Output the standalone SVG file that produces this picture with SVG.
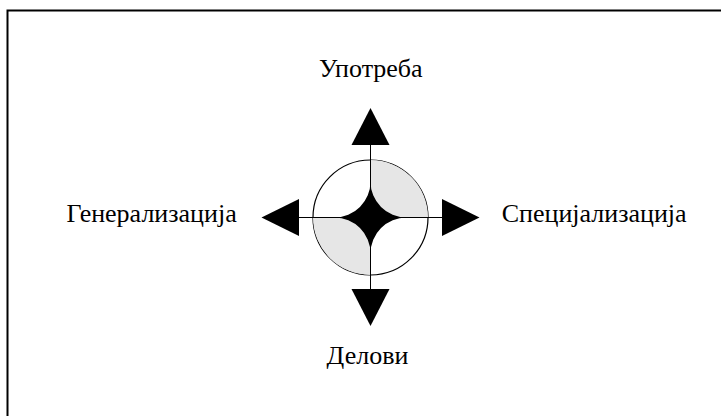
<svg xmlns="http://www.w3.org/2000/svg" width="721" height="416" viewBox="0 0 721 416">
  <style>
    .frame { fill: none; stroke: #000; stroke-width: 2; }
    .axis { stroke: #000; stroke-width: 1; fill: none; }
    .arrow { fill: #000; stroke: none; }
    .ring { fill: #fff; stroke: #000; stroke-width: 1.2; }
    .shade { fill: #e6e6e6; stroke: none; }
    .star { fill: #000; stroke: none; }
    .label { font-family: "Liberation Serif", "Times New Roman", serif; font-size: 26px; fill: #000; }
  </style>
  <rect width="721" height="416" fill="#fff"/>
  <rect class="frame" x="7.5" y="10.5" width="730" height="420"/>

  <g id="hub">
    <circle class="ring" cx="370.5" cy="217.5" r="57.5"/>
    <path class="shade" d="M370.5,160 L370.5,181.5 A36,36 0 0 0 406.5,217.5 L428,217.5 A57.5,57.5 0 0 0 370.5,160 Z"/>
    <path class="shade" d="M370.5,275 L370.5,253.5 A36,36 0 0 0 334.5,217.5 L313,217.5 A57.5,57.5 0 0 0 370.5,275 Z"/>
    <path class="star" d="M370.5,181.5 A36,36 0 0 0 406.5,217.5 A36,36 0 0 0 370.5,253.5 A36,36 0 0 0 334.5,217.5 A36,36 0 0 0 370.5,181.5 Z"/>
  </g>

  <g id="connectors">
    <line class="axis" x1="370.5" y1="145" x2="370.5" y2="290"/>
    <line class="axis" x1="299" y1="217.5" x2="442" y2="217.5"/>
    <polygon class="arrow" points="370.5,108 389.5,145 351.5,145"/>
    <polygon class="arrow" points="370.5,326 389.5,289 351.5,289"/>
    <polygon class="arrow" points="261.5,217.5 299,199 299,236"/>
    <polygon class="arrow" points="479.5,217.5 442,199 442,236"/>
  </g>

  <g id="use">
    <text class="label" x="370.8" y="76.7" text-anchor="middle">Употреба</text>
  </g>
  <g id="generalization">
    <text class="label" x="236.7" y="221.8" text-anchor="end">Генерализација</text>
  </g>
  <g id="specialization">
    <text class="label" x="501.7" y="221.8">Специјализација</text>
  </g>
  <g id="parts">
    <text class="label" x="367.5" y="364.3" text-anchor="middle">Делови</text>
  </g>
</svg>
